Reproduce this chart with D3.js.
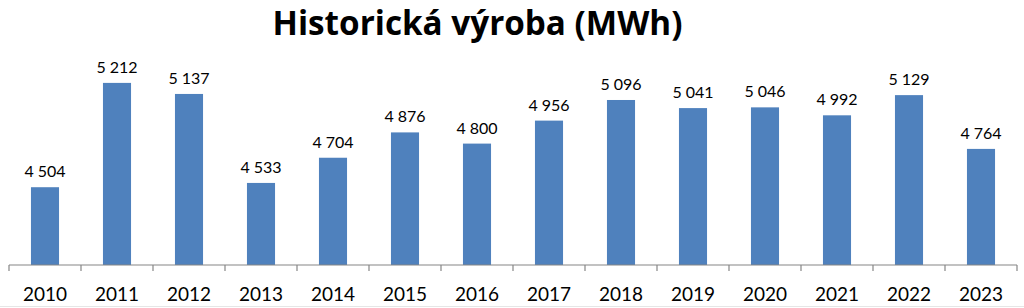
<!DOCTYPE html>
<html><head><meta charset="utf-8">
<script src="https://cdn.jsdelivr.net/npm/d3@7"></script>
<style>html,body{margin:0;padding:0;background:#fff;}svg{display:block;}</style>
</head><body>
<svg id="chart" width="1024" height="308"></svg>
<script>
const title = "Historická výroba (MWh)";
const years = ["2010","2011","2012","2013","2014","2015","2016","2017","2018","2019","2020","2021","2022","2023"];
const production = [4504,5212,5137,4533,4704,4876,4800,4956,5096,5041,5046,4992,5129,4764];

const svg = d3.select("#chart");
const font = "Lato, 'Open Sans', sans-serif";

const x = d3.scaleBand().domain(years).range([9, 1017]).paddingInner(0.61).paddingOuter(0.305);
const y = d3.scaleLinear().domain([3976, 5400]).range([265, 55.2]);

// bars
svg.append("g").selectAll("rect").data(production).join("rect")
  .attr("x", (d,i) => x(years[i]))
  .attr("width", x.bandwidth())
  .attr("y", d => y(d))
  .attr("height", d => y.range()[0] - y(d))
  .attr("fill", "#4F81BD");

// value labels
const fmt = v => d3.format(",")(v).replace(/,/g, " ");
svg.append("g").selectAll("text").data(production).join("text")
  .attr("x", (d,i) => x(years[i]) + x.bandwidth()/2)
  .attr("y", d => y(d) - 10)
  .attr("text-anchor", "middle")
  .attr("font-family", font)
  .attr("font-size", 16)
  .attr("fill", "#000")
  .text(d => fmt(d));

// axis
const ax = svg.append("g");
const [r0, r1] = x.range();
const base = y.range()[0];
ax.append("line").attr("x1", r0).attr("x2", r1).attr("y1", base).attr("y2", base)
  .attr("stroke", "#868686").attr("stroke-width", 1.2);
const bounds = d3.range(years.length + 1).map(i => r0 + i * x.step());
ax.selectAll("line.tick").data(bounds).join("line").attr("class","tick")
  .attr("x1", d => d).attr("x2", d => d).attr("y1", base).attr("y2", base + 6)
  .attr("stroke", "#868686").attr("stroke-width", 1.2);
ax.selectAll("text").data(years).join("text")
  .attr("x", d => x(d) + x.bandwidth()/2)
  .attr("y", 301)
  .attr("text-anchor", "middle")
  .attr("font-family", font)
  .attr("font-size", 19)
  .attr("fill", "#000")
  .text(d => d);

// title
const t = svg.append("text")
  .attr("x", 477.5).attr("y", 35)
  .attr("text-anchor", "middle")
  .attr("font-family", "'Open Sans', 'Noto Sans', sans-serif")
  .attr("font-weight", "bold")
  .attr("font-size", 34)
  .attr("fill", "#000")
  .text(title);
const w = t.node().getComputedTextLength();
t.attr("font-size", 34 * 410 / w);

// faint bottom border
svg.append("line").attr("x1", 0).attr("x2", 1024).attr("y1", 306.5).attr("y2", 306.5)
  .attr("stroke", "#e6e6e6").attr("stroke-width", 1);
</script>
</body></html>
